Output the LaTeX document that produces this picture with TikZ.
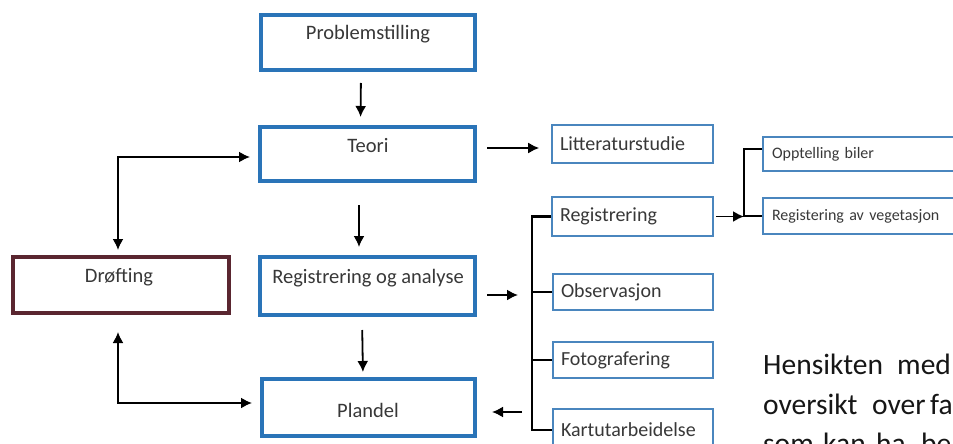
\documentclass[tikz,border=0pt]{standalone}
\usepackage{fontspec}
\setmainfont{Carlito}
\usetikzlibrary{arrows.meta,calc}
\definecolor{mainblue}{HTML}{2A74B8}
\definecolor{smallblue}{HTML}{4A86BE}
\definecolor{maroon}{HTML}{5A2630}
\definecolor{txtgrey}{HTML}{383838}
\definecolor{paratxt}{HTML}{161616}
\tikzset{
  bigbox/.style={draw=mainblue, line width=4pt, rectangle, inner sep=0pt},
  drofbox/.style={draw=maroon, line width=4pt, rectangle, inner sep=0pt},
  bigtext/.style={font=\fontsize{20.5}{24}\selectfont, text=txtgrey, inner sep=0pt},
  smallbox/.style={draw=smallblue, line width=1.6pt, rectangle, inner xsep=8pt, inner ysep=0pt,
     align=left, font=\fontsize{20}{24}\selectfont, text=txtgrey},
  tinybox/.style={draw=smallblue, line width=1.6pt, rectangle, inner xsep=9pt, inner ysep=0pt,
     align=left, font=\fontsize{16}{19}\selectfont, text=txtgrey},
  arr/.style={draw=black, line width=1.8pt, -{Latex[length=11pt,width=11pt]}},
  darr/.style={draw=black, line width=1.8pt, {Latex[length=11pt,width=11pt]}-{Latex[length=11pt,width=11pt]}},
  tree/.style={draw=black, line width=2.6pt},
  para/.style={font=\fontsize{29.5}{34}\selectfont, text=paratxt, inner sep=0pt, anchor=base west}
}
\begin{document}
\begin{tikzpicture}[x=1pt,y=-1pt]
\useasboundingbox (0,0) rectangle (953,444);
\clip (0,0) rectangle (953,444);
\fill[white] (0,0) rectangle (953,444);

% main column boxes
\node[bigbox, minimum width=214pt, minimum height=55pt] (prob) at (368,42.5) {};
\node[bigtext] (probt) at (368,34) {Problemstilling};
\node[bigbox, minimum width=215pt, minimum height=54pt] (teori) at (367.5,154) {};
\node[bigtext] (teorit) at (368,146) {Teori};
\node[bigbox, minimum width=215pt, minimum height=58pt] (roa) at (367.5,286) {};
\node[bigtext] (roat) at (368,278) {Registrering og analyse};
\node[bigbox, minimum width=213pt, minimum height=57pt] (plandel) at (368.5,407.5) {};
\node[bigtext] (plandelt) at (368,410) {Plandel};
\node[drofbox, minimum width=216pt, minimum height=56pt] (drof) at (121,285) {};
\node[bigtext] (droft) at (119,277) {Drøfting};

% small boxes
\node[smallbox, text width=145pt, minimum height=38pt] (litt) at (632.5,144) {Litteraturstudie};
\node[smallbox, text width=145pt, minimum height=39pt] (reg) at (632.5,216.5) {Registrering};
\node[smallbox, text width=144pt, minimum height=36pt] (obs) at (633,292) {Observasjon};
\node[smallbox, text width=144pt, minimum height=36pt] (foto) at (633,360) {Fotografering};
\node[smallbox, text width=144pt, minimum height=42pt] (kart) at (633,430) {Kartutarbeidelse};
\node[tinybox, text width=194pt, minimum height=34pt] (opp) at (869,154) {Opptelling biler};
\node[tinybox, text width=194pt, minimum height=36pt] (veg) at (869,216) {Registering av vegetasjon};

% tree coordinates
\coordinate (tx) at (532,0);
\coordinate (bx) at (744,0);

% vertical flow
\draw[arr, shorten <=11pt, shorten >=8pt] ([xshift=-7pt]prob.south) -- ([xshift=-7pt]teori.north);
\draw[arr, shorten <=22pt, shorten >=8pt] ([xshift=-8.5pt]teori.south) -- ([xshift=-8.5pt]roa.north);
\draw[arr, shorten <=13pt, shorten >=5pt] ([xshift=-5.5pt]roa.south) -- ([xshift=-5.5pt]plandel.north);

% Drøfting loops
\draw[darr, shorten <=5pt, shorten >=8pt] ([xshift=-3pt]drof.north) |- ([yshift=-3pt]teori.west);
\draw[darr, shorten <=17pt, shorten >=8pt] ([xshift=-3pt]drof.south) |- ([yshift=4.5pt]plandel.west);

% Teori -> Litteraturstudie
\draw[arr, shorten <=10pt, shorten >=12pt] ([yshift=6pt]teori.east) -- ([yshift=6pt]teori.east -| litt.west);

% left tree
\draw[tree] (reg.west) -| (tx |- kart.west) -- (kart.west);
\draw[tree] (obs.west) -- (tx |- obs.west);
\draw[tree] (foto.west) -- (tx |- foto.west);
\draw[arr, shorten <=10pt, shorten >=14pt] ([yshift=-9pt]roa.east) -- ([yshift=-9pt]roa.east -| tx);
\draw[arr, shorten <=10pt, shorten >=15pt] ([yshift=-4.5pt]plandel.east -| tx) -- ([yshift=-4.5pt]plandel.east);

% right tree
\draw[tree] ([yshift=5pt]opp.west) -| (bx |- veg.west) -- (veg.west);
\draw[arr, shorten <=2pt] (reg.east) -- (reg.east -| bx);

% paragraph fragment
\node[para] (w1) at (763,374) {Hensikten};
\node[para] (w2) at (897,374) {med};
\node[para] (w3) at (763,414) {oversikt};
\node[para] (w4) at (872,414) {over};
\node[para] (w5) at (930,414) {fa};
\node[para] (w6) at (763,453) {som};
\node[para] (w7) at (823,453) {kan};
\node[para] (w8) at (876,453) {ha};
\node[para] (w9) at (921,453) {be};
\end{tikzpicture}
\end{document}
